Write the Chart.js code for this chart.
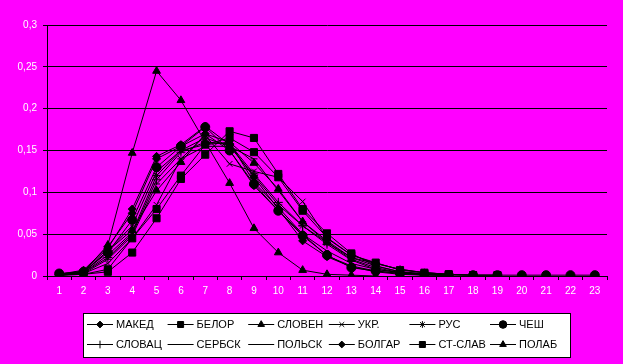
<!DOCTYPE html>
<html><head><meta charset="utf-8">
<script src="https://cdn.jsdelivr.net/npm/chart.js@4"></script>
<style>html,body{margin:0;padding:0;background:#FF00FF;}canvas{display:block;}</style>
</head><body>
<canvas id="c" width="623" height="364"></canvas>
<script>
const categories = ['1','2','3','4','5','6','7','8','9','10','11','12','13','14','15','16','17','18','19','20','21','22','23'];
const yTicks = [0,0.05,0.1,0.15,0.2,0.25,0.3];

const makedValues   = [0.002,0.006,0.033,0.080,0.143,0.157,0.179,0.157,0.118,0.080,0.042,0.023,0.011,0.005,0.002,0.001,0.001];
const belorValues   = [0.001,0.002,0.005,0.028,0.069,0.116,0.145,0.173,0.165,0.122,0.080,0.051,0.027,0.012,0.005,0.003,0.002,0.001,0.001];
const slovenValues  = [0.001,0.004,0.030,0.055,0.102,0.136,0.170,0.160,0.135,0.104,0.065,0.040,0.020,0.010,0.004,0.002,0.001];
const ukrValues     = [0.001,0.003,0.015,0.045,0.085,0.140,0.168,0.134,0.125,0.118,0.089,0.045,0.025,0.015,0.008,0.004,0.002];
const rusValues     = [0.001,0.004,0.025,0.052,0.120,0.150,0.165,0.155,0.120,0.085,0.060,0.040,0.022,0.015,0.008,0.004,0.002,0.001];
const chehValues    = [0.003,0.005,0.028,0.067,0.130,0.155,0.178,0.150,0.110,0.078,0.048,0.025,0.010,0.006,0.003,0.002,0.001,0.001,0.001,0.001,0.001,0.001,0.001];
const slovacValues  = [0.001,0.004,0.022,0.050,0.115,0.148,0.160,0.158,0.122,0.088,0.060,0.038,0.019,0.008,0.004,0.002,0.001];
const serbValues    = [0.001,0.005,0.030,0.060,0.125,0.150,0.157,0.160,0.112,0.082,0.050,0.030,0.015,0.008,0.004,0.002,0.001];
const polskValues   = [0.001,0.003,0.020,0.048,0.110,0.140,0.155,0.155,0.140,0.102,0.065,0.042,0.022,0.012,0.005,0.002,0.001];
const bolgarValues  = [0.002,0.007,0.035,0.075,0.140,0.155,0.170,0.150,0.108,0.078,0.050,0.024,0.012,0.006,0.003,0.001,0.001];
const stslavValues  = [0.001,0.002,0.008,0.045,0.080,0.120,0.157,0.165,0.148,0.118,0.078,0.046,0.025,0.016,0.007,0.004,0.002,0.001,0.001];
const polabValues   = [0.001,0.005,0.037,0.147,0.245,0.210,0.160,0.111,0.057,0.028,0.007,0.002,0.001,0.000];

const seriesLabels = ['МАКЕД','БЕЛОР','СЛОВЕН','УКР.','РУС','ЧЕШ','СЛОВАЦ','СЕРБСК','ПОЛЬСК','БОЛГАР','СТ-СЛАВ','ПОЛАБ'];
const seriesValues = [makedValues,belorValues,slovenValues,ukrValues,rusValues,chehValues,slovacValues,serbValues,polskValues,bolgarValues,stslavValues,polabValues];
const seriesMarkers = ['rectRot','rect','triangle','crossRot','star','circle','cross','line','line','rectRot','rect','triangle'];
const seriesRadius  = [4,5,4.5,4,4,4.5,4.5,2,3.5,4,5,4.5];

const datasets = seriesLabels.map((lab,i)=>({
  label: lab,
  data: seriesValues[i],
  borderColor:'#000', backgroundColor:'#000',
  borderWidth:1, tension:0, fill:false,
  pointStyle: seriesMarkers[i], pointRadius: seriesRadius[i],
  pointBorderColor:'#000', pointBackgroundColor:'#000', pointBorderWidth:1
}));

const legendPlugin = {
  id:'boxLegend',
  afterDraw(chart){
    const ctx = chart.ctx;
    ctx.save();
    ctx.fillStyle='#fff'; ctx.strokeStyle='#000'; ctx.lineWidth=1;
    ctx.fillRect(83,313,488,44);
    ctx.strokeRect(83.5,313.5,487,44);
    ctx.font='11px "Liberation Sans", Arial, sans-serif';
    ctx.textBaseline='middle'; ctx.textAlign='left';
    chart.data.datasets.forEach((ds,i)=>{
      const col=i%6,row=Math.floor(i/6);
      const x0=87+col*80.6, y=row===0?324.5:344.5;
      ctx.strokeStyle='#000'; ctx.lineWidth=1;
      ctx.beginPath(); ctx.moveTo(x0,y); ctx.lineTo(x0+26,y); ctx.stroke();
      ctx.fillStyle='#000';
      Chart.helpers.drawPoint(ctx,{pointStyle:ds.pointStyle,radius:ds.pointRadius*0.85,rotation:0,borderWidth:1},x0+13,y);
      ctx.fillStyle='#000';
      ctx.fillText(ds.label,x0+29,y+0.5);
    });
    ctx.restore();
  }
};

new Chart(document.getElementById('c'),{
  type:'line',
  data:{labels:categories,datasets},
  plugins:[legendPlugin],
  options:{
    responsive:false, animation:false, devicePixelRatio:1,
    layout:{padding:{top:25,right:16,left:0,bottom:0}},
    plugins:{legend:{display:false},tooltip:{enabled:false}},
    scales:{
      x:{
        offset:true,
        grid:{display:true,offset:true,drawOnChartArea:false,drawTicks:true,tickLength:4,color:'#000'},
        border:{display:true,color:'#000',width:1},
        ticks:{color:'#fff',font:{size:10,family:'"Liberation Sans", Arial, sans-serif'},padding:5,maxRotation:0,autoSkip:false},
        afterFit(s){s.height=88;}
      },
      y:{
        min:0,max:0.3,
        afterBuildTicks(s){s.ticks=yTicks.map(v=>({value:v}));},
        grid:{color:'#000',lineWidth:1,drawTicks:true,tickLength:4},
        border:{display:true,color:'#000',width:1},
        ticks:{color:'#fff',font:{size:10,family:'"Liberation Sans", Arial, sans-serif'},padding:6,
          callback:(v)=>String(+(+v).toFixed(2)).replace('.',',')},
        afterFit(s){s.width=47;}
      }
    }
  }
});
</script>
</body></html>
